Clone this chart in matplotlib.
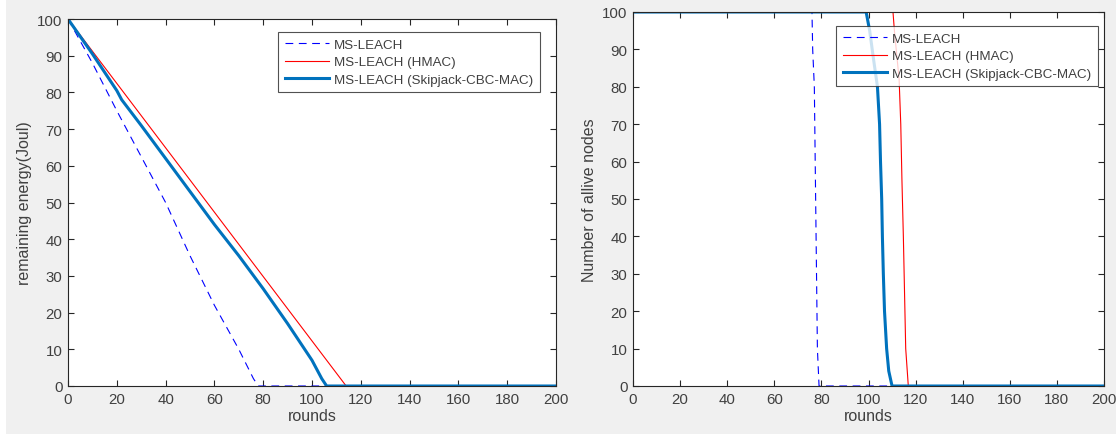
import matplotlib
matplotlib.use("Agg")
import matplotlib.pyplot as plt
from matplotlib.patches import Rectangle

plt.rcParams['font.family'] = ['Liberation Sans', 'DejaVu Sans']

# ---- data: remaining energy ----
e_ms_x = [0, 10, 20, 30, 40, 50, 60, 70, 76, 78, 200]
e_ms_y = [100, 88, 75, 62.5, 50, 35.5, 22, 10, 2, 0, 0]

e_hmac_x = [0, 114, 200]
e_hmac_y = [100, 0, 0]

e_skip_x = [0, 10, 20, 22, 30, 40, 50, 60, 70, 80, 90, 100, 104, 106, 200]
e_skip_y = [100, 90.5, 80.5, 78, 71, 62, 53, 44, 35.5, 26.5, 17, 7, 2, 0, 0]

# ---- data: alive nodes ----
a_ms_x = [0, 76, 76.3, 77, 77.5, 78.3, 79, 200]
a_ms_y = [100, 100, 90, 80, 53, 10, 0, 0]

a_hmac_x = [0, 110.4, 111, 113, 113.7, 114.2, 114.8, 115.4, 115.8, 116.9, 200]
a_hmac_y = [100, 100, 95, 82, 70, 55, 40, 22, 10, 0, 0]

a_skip_x = [0, 99, 100.5, 102, 103.8, 104.7, 105.1, 105.6, 105.9, 106.3, 106.8, 107.7, 108.6, 110, 200]
a_skip_y = [100, 100, 95, 88, 80, 70, 60, 50, 40, 30, 20, 10, 4, 0, 0]

labels = ['MS-LEACH', 'MS-LEACH (HMAC)', 'MS-LEACH (Skipjack-CBC-MAC)']
xticks = list(range(0, 201, 20))
yticks = list(range(0, 101, 10))

C_MS = '#0000FF'
C_HMAC = '#FF0000'
C_SKIP = '#0072BD'
TXT = '#404040'
AX = '#262626'

W, H = 1116, 439
fig = plt.figure(figsize=(W / 100, H / 100), dpi=100, facecolor='white')
fig.patches.append(Rectangle((6 / W, 4 / H), 1 - 6 / W, 1 - 4 / H,
                             transform=fig.transFigure, facecolor='#F0F0F0',
                             edgecolor='none', zorder=-10))

def make_ax(x0, y0, x1, y1):
    return fig.add_axes([x0 / W, 1 - y1 / H, (x1 - x0) / W, (y1 - y0) / H])

ax1 = make_ax(68, 20, 556, 387)
ax2 = make_ax(633, 13, 1104, 387)

def style(ax, ylabel):
    ax.set_xlim(0, 200)
    ax.set_ylim(0, 100)
    ax.set_xticks(xticks)
    ax.set_yticks(yticks)
    ax.tick_params(direction='in', top=True, right=True, length=4, width=0.8,
                   color=AX, labelcolor=TXT, labelsize=10.8, pad=4)
    for s in ax.spines.values():
        s.set_color(AX)
        s.set_linewidth(0.8)
    ax.set_xlabel('rounds', fontsize=11.5, color=TXT, labelpad=2)
    ax.set_ylabel(ylabel, fontsize=11.5, color=TXT, labelpad=4)
    ax.set_facecolor('white')

ax1.plot(e_ms_x, e_ms_y, color=C_MS, lw=0.8, ls=(0, (7, 5)), label=labels[0])
ax1.plot(e_hmac_x, e_hmac_y, color=C_HMAC, lw=0.8, label=labels[1])
ax1.plot(e_skip_x, e_skip_y, color=C_SKIP, lw=2.2, label=labels[2])
style(ax1, 'remaining energy(Joul)')

ax2.plot(a_ms_x, a_ms_y, color=C_MS, lw=0.8, ls=(0, (7, 5)), label=labels[0])
ax2.plot(a_hmac_x, a_hmac_y, color=C_HMAC, lw=0.8, label=labels[1])
ax2.plot(a_skip_x, a_skip_y, color=C_SKIP, lw=2.2, label=labels[2])
style(ax2, 'Number of allive nodes')

for ax, bb in ((ax1, (278, 33)), (ax2, (836, 27))):
    leg = ax.legend(loc='upper left',
                    bbox_to_anchor=(bb[0] / W, 1 - bb[1] / H),
                    bbox_transform=fig.transFigure,
                    fontsize=9.6, frameon=True, fancybox=False,
                    handlelength=3.3, handletextpad=0.4, borderpad=0.5,
                    labelspacing=0.38, borderaxespad=0)
    leg.get_frame().set_edgecolor(AX)
    leg.get_frame().set_linewidth(0.8)
    for t in leg.get_texts():
        t.set_color(TXT)

fig.savefig('out.png', dpi=100, facecolor=fig.get_facecolor())
